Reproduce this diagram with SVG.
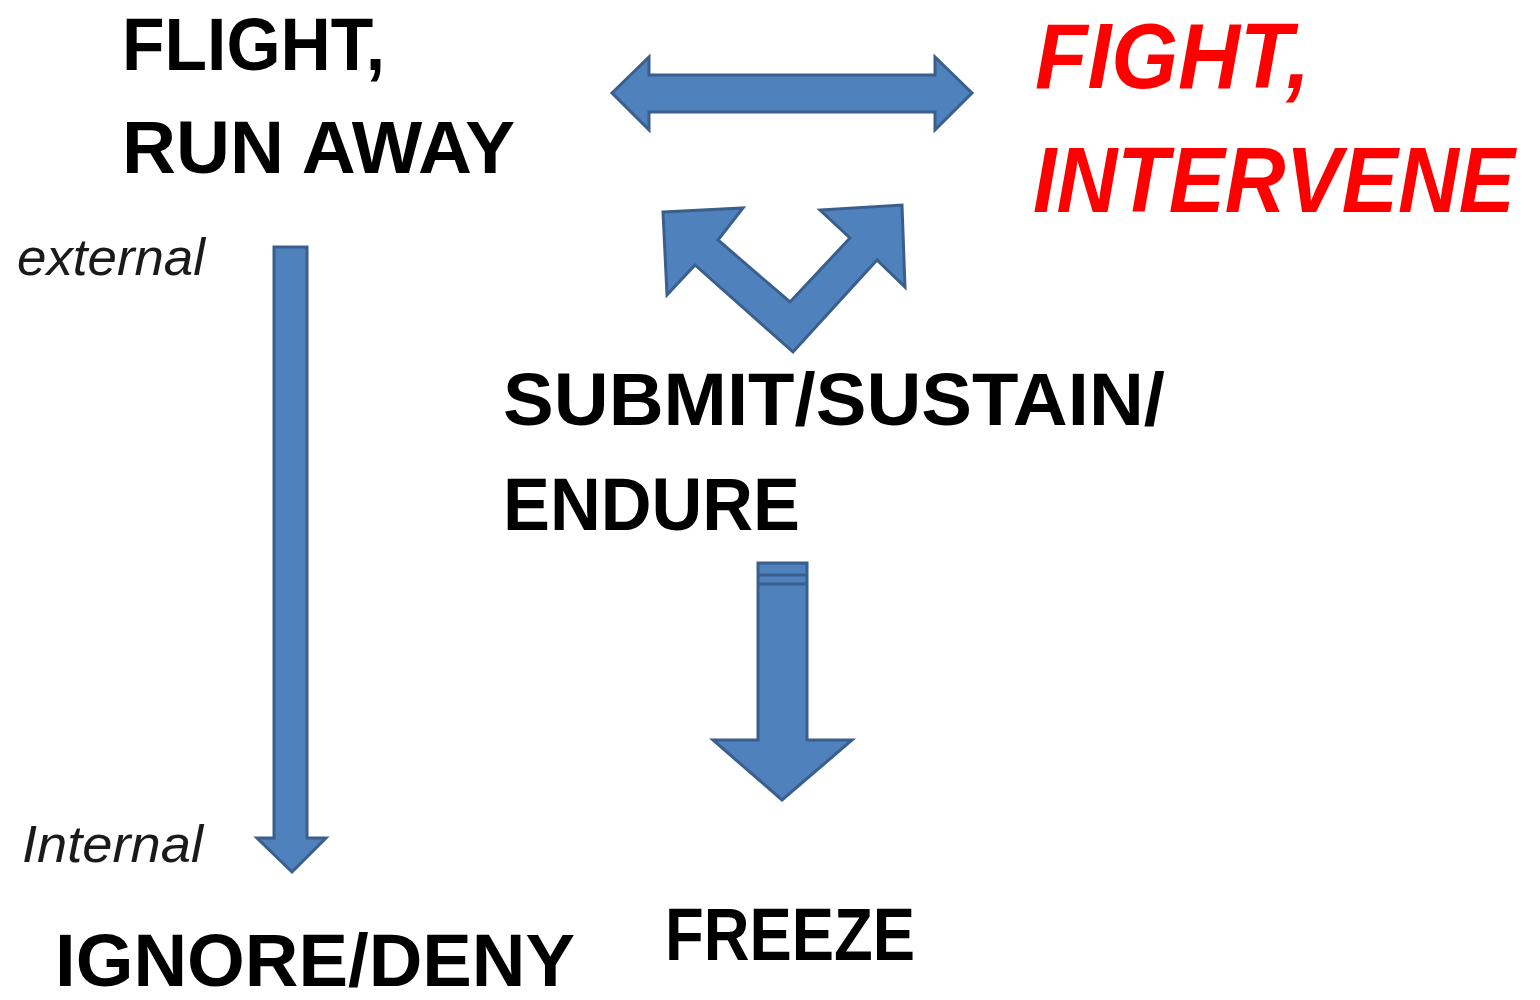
<svg xmlns="http://www.w3.org/2000/svg" width="1540" height="1000" viewBox="0 0 1540 1000">
<style>
.arrow{fill:#4F81BD;stroke:#3A5F8D;stroke-width:3;stroke-linejoin:miter}
.big{font-family:"Liberation Sans",Arial,sans-serif;font-weight:bold;font-size:74px;fill:#000}
.red{font-family:"Liberation Sans",Arial,sans-serif;font-weight:bold;font-style:italic;font-size:92px;fill:#FF0000}
.small{font-family:"Liberation Sans",Arial,sans-serif;font-style:italic;font-size:52px;fill:#1a1a1a}
</style>
<rect width="1540" height="1000" fill="#ffffff"/>
<g id="connectors">
<polygon class="arrow" points="612,93 649,57 649,75 935,75 935,57 972,93 935,130 935,112 649,112 649,130"/>
<polygon class="arrow" points="663,212 743,208 718,240 790,302 850,238 820,210 902,205 905,287 877,260 793,352 695,265 667,295"/>
<polygon class="arrow" points="758,563 807,563 807,740 852,740 782,800 713,740 758,740"/>
<line x1="759" y1="575" x2="806" y2="575" stroke="#3A5F8D" stroke-width="3"/>
<line x1="759" y1="584" x2="806" y2="584" stroke="#3A5F8D" stroke-width="3"/>
<polygon class="arrow" points="274,247 307,247 307,838 326,838 292,872 257,838 274,838"/>
</g>
<g id="flight">
<text class="big" x="122" y="70" textLength="263" lengthAdjust="spacingAndGlyphs">FLIGHT,</text>
<text class="big" x="122" y="173" textLength="393" lengthAdjust="spacingAndGlyphs">RUN AWAY</text>
</g>
<g id="fight">
<text class="red" x="1035" y="88" textLength="275" lengthAdjust="spacingAndGlyphs">FIGHT,</text>
<text class="red" x="1033" y="212" textLength="482" lengthAdjust="spacingAndGlyphs">INTERVENE</text>
</g>
<g id="external">
<text class="small" x="17" y="275" textLength="188" lengthAdjust="spacingAndGlyphs">external</text>
</g>
<g id="submit">
<text class="big" x="503" y="425" textLength="662" lengthAdjust="spacingAndGlyphs">SUBMIT/SUSTAIN/</text>
<text class="big" x="503" y="530" textLength="297" lengthAdjust="spacingAndGlyphs">ENDURE</text>
</g>
<g id="internal">
<text class="small" x="22" y="862" textLength="181" lengthAdjust="spacingAndGlyphs">Internal</text>
</g>
<g id="freeze">
<text class="big" x="665" y="960" textLength="250" lengthAdjust="spacingAndGlyphs">FREEZE</text>
</g>
<g id="ignore">
<text class="big" x="55" y="986" textLength="520" lengthAdjust="spacingAndGlyphs">IGNORE/DENY</text>
</g>
</svg>
